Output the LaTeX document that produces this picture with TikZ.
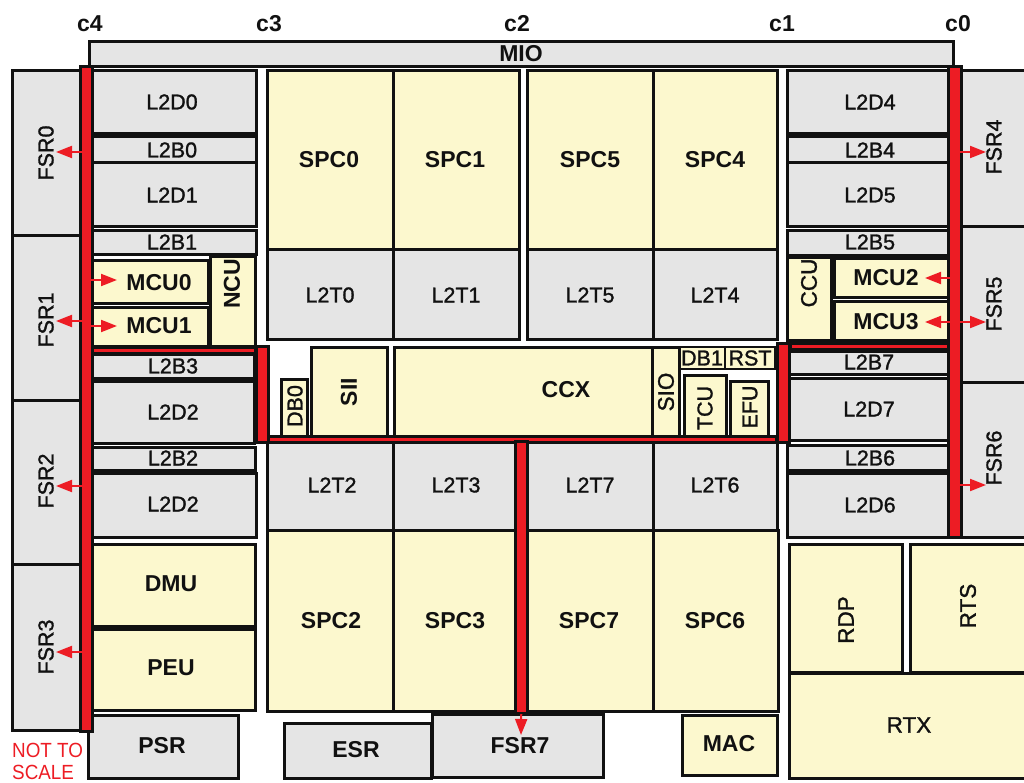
\documentclass[tikz,border=0pt]{standalone}
\usepackage{fontspec}
\setmainfont{Liberation Sans}
\newfontfamily\medfont[FakeBold=1.3]{Liberation Sans}
\usetikzlibrary{arrows.meta}
\definecolor{blockgray}{HTML}{E5E5E5}
\definecolor{blockyellow}{HTML}{FCF8CE}
\definecolor{busred}{HTML}{ED1C24}
\definecolor{edge}{HTML}{111111}
\tikzset{
  blockbase/.style={draw=edge,line width=3pt,inner sep=0pt,outer sep=0pt,rectangle},
  gb/.style={blockbase,fill=blockgray},
  yb/.style={blockbase,fill=blockyellow},
  busbar/.style={draw=edge,fill=busred,line width=3pt,inner sep=0pt,outer sep=0pt,rectangle},
  reg/.style={inner sep=0pt,text=edge,font=\medfont\fontsize{21.5}{24}\selectfont},
  reglg/.style={inner sep=0pt,text=edge,font=\medfont\fontsize{22.5}{24}\selectfont},
  bld/.style={inner sep=0pt,text=edge,font=\bfseries\fontsize{23}{24}\selectfont},
  vert/.style={rotate=90},
  sig/.style={draw=busred,fill=busred,line width=2pt,-{Triangle[length=16pt,width=12pt]}},
}
% name, box style, label style, x0,y0 x1,y1, label position, text
\def\blk#1#2#3(#4,#5)(#6,#7)(#8)#9{%
  \node[#2,minimum width={#6-#4},minimum height={#7-#5}] (#1) at ({(#4+#6)/2},{(#5+#7)/2}) {};
  \node[#3] (#1-t) at (#8) {#9};}
\def\bus#1(#2,#3)(#4,#5){%
  \node[busbar,minimum width={#4-#2},minimum height={#5-#3}] (#1) at ({(#2+#4)/2},{(#3+#5)/2}) {};}
% horizontal arrow leaving a bus: name, bus, tip x, y
\def\tap#1#2#3#4{\coordinate (#1) at (#3,#4); \draw[sig] (#2.center |- #1) -- (#1);}
\begin{document}
\begin{tikzpicture}[x=1pt,y=-1pt]
\useasboundingbox (0,0) rectangle (1024,783);
\clip (0,0) rectangle (1024,783);
% column labels
\foreach \n/\x in {c4/90,c3/269,c2/517,c1/782,c0/958}
  \node[bld] (lab\n) at (\x,24) {\n};
% MIO and left FSR column
\blk{MIO}{gb}{bld}(89,42)(953,67)(521,54){MIO}
\blk{FSR0}{gb}{reg,vert}(12,71)(80,236)(46,153){FSR0}
\blk{FSR1}{gb}{reg,vert}(12,236)(80,400)(46,320){FSR1}
\blk{FSR2}{gb}{reg,vert}(12,400)(80,564)(46,481){FSR2}
\blk{FSR3}{gb}{reg,vert}(12,564)(80,730)(46,647){FSR3}
% left L2 column
\blk{NCU}{yb}{bld,vert}(210,257)(255,346)(232,284){NCU}
\blk{L2D0}{gb}{reg}(92,71)(256,134)(172,102){L2D0}
\blk{L2B0}{gb}{reg}(92,137)(256,162.5)(172,150){L2B0}
\blk{L2D1}{gb}{reg}(92,162.5)(256,227)(172,195){L2D1}
\blk{L2B1}{gb}{reg}(92,231)(256,255)(172,242){L2B1}
\blk{MCU0}{yb}{bld}(92,261)(208,303)(159,283){MCU0}
\blk{MCU1}{yb}{bld}(92,307)(208,346)(159,326){MCU1}
\blk{L2B3}{gb}{reg}(92,354)(254,378)(173,366){L2B3}
\blk{L2D2a}{gb}{reg}(92,381)(254,443)(173,412){L2D2}
\blk{L2B2}{gb}{reg}(92,447)(255,470)(173,458){L2B2}
\blk{L2D2b}{gb}{reg}(92,473.5)(256,537)(173,504){L2D2}
\blk{DMU}{yb}{bld}(92,544)(255,626)(171,584){DMU}
\blk{PEU}{yb}{bld}(92,629)(255,710)(171,668){PEU}
% processor tiles
\blk{SPC0}{yb}{bld}(267,71)(393,250)(329,160){SPC0}
\blk{SPC1}{yb}{bld}(393,71)(519,250)(455,160){SPC1}
\blk{SPC5}{yb}{bld}(527,71)(653,250)(590,160){SPC5}
\blk{SPC4}{yb}{bld}(653,71)(777,250)(715,160){SPC4}
\blk{L2T0}{gb}{reg}(267,250)(393,339)(330,295){L2T0}
\blk{L2T1}{gb}{reg}(393,250)(519,339)(456,295){L2T1}
\blk{L2T5}{gb}{reg}(527,250)(653,339)(590,295){L2T5}
\blk{L2T4}{gb}{reg}(653,250)(777,339)(715,295){L2T4}
\blk{L2T2}{gb}{reg}(267,442)(393,530)(332,485){L2T2}
\blk{L2T3}{gb}{reg}(393,442)(519,530)(456,485){L2T3}
\blk{L2T7}{gb}{reg}(527,442)(653,530)(590,485){L2T7}
\blk{L2T6}{gb}{reg}(653,442)(777,530)(715,485){L2T6}
\blk{SPC2}{yb}{bld}(267,530)(393,711)(331,621){SPC2}
\blk{SPC3}{yb}{bld}(393,530)(519,711)(455,621){SPC3}
\blk{SPC7}{yb}{bld}(527,530)(653,711)(589,621){SPC7}
\blk{SPC6}{yb}{bld}(653,530)(778,711)(715,621){SPC6}
% centre row
\blk{DB0}{yb}{reg,vert}(281,379)(307,436)(295,406){DB0}
\blk{SII}{yb}{bld,vert}(311,347)(387,436)(349,392){SII}
\blk{CCX}{yb}{bld}(394,347)(652,436)(566,390){CCX}
\blk{SIO}{yb}{reglg,vert}(652,347)(679,436)(666,392){SIO}
\blk{DB1}{yb,line width=1.5pt}{reg}(680,347)(725,369)(702,358){DB1}
\blk{RST}{yb,line width=1.5pt}{reg}(725,347)(775,369)(750,358){RST}
\blk{TCU}{yb}{reg,vert}(684,375)(726,436)(705,408){TCU}
\blk{EFU}{yb}{reg,vert}(730,381)(768,436)(750,407){EFU}
% right L2 column
\blk{L2D4}{gb}{reg}(787,71)(948,134)(870,102){L2D4}
\blk{L2B4}{gb}{reg}(787,137)(948,162.5)(870,150){L2B4}
\blk{L2D5}{gb}{reg}(787,162.5)(948,227)(870,195){L2D5}
\blk{L2B5}{gb}{reg}(787,231)(948,256)(870,242){L2B5}
\blk{CCU}{yb}{reglg,vert}(787,258)(831,340)(809,283){CCU}
\blk{MCU2}{yb}{bld}(834,259)(948,297)(886,278){MCU2}
\blk{MCU3}{yb}{bld}(834,301)(948,340)(886,322){MCU3}
\blk{L2B7}{gb}{reg}(789,351)(948,374)(869,362){L2B7}
\blk{L2D7}{gb}{reg}(789,378)(948,440)(869,409){L2D7}
\blk{L2B6}{gb}{reg}(787,445)(948,470)(870,458){L2B6}
\blk{L2D6}{gb}{reg}(787,473.5)(948,537)(870,505){L2D6}
% right FSR column
\blk{FSR4}{gb}{reg,vert}(961,71)(1034,227)(994,147){FSR4}
\blk{FSR5}{gb}{reg,vert}(961,227)(1034,382)(994,304){FSR5}
\blk{FSR6}{gb}{reg,vert}(961,382)(1034,537)(994,458){FSR6}
% bottom row
\blk{PSR}{gb}{bld}(88,715)(238,778)(162,746){PSR}
\blk{ESR}{gb}{bld}(284,723)(431,778)(356,750){ESR}
\blk{FSR7}{gb}{bld}(432,714)(603,777)(520,746){FSR7}
\blk{MAC}{yb}{bld}(682,715)(777,775)(729,744){MAC}
\blk{RDP}{yb}{reglg,vert}(789,544)(902,672)(846,620){RDP}
\blk{RTS}{yb}{reglg,vert}(910,544)(1034,672)(968,606){RTS}
\blk{RTX}{yb}{reglg}(789,673)(1034,778)(909,725){RTX}
% red buses
\bus{busH}(268,436)(776,442)
\bus{busV}(515.5,441)(527,713)
\bus{busLt}(92,347)(255,353)
\bus{busRt}(790,343)(948,349)
\bus{busC3}(256,346)(268,442)
\bus{busC1}(777,343)(789,442)
\bus{busC4}(80,67)(92.5,731)
\bus{busC0}(948,67)(961,537)
% tap arrows
\tap{tF0}{busC4}{56}{152}
\tap{tF1}{busC4}{56}{321}
\tap{tF2}{busC4}{56}{486}
\tap{tF3}{busC4}{56}{652}
\tap{tM0}{busC4}{117}{280}
\tap{tM1}{busC4}{117}{326}
\tap{tF4}{busC0}{986}{152}
\tap{tF5}{busC0}{986}{322}
\tap{tF6}{busC0}{986}{485}
\tap{tM2}{busC0}{925}{278}
\tap{tM3}{busC0}{925}{322}
\coordinate (tF7) at (521,735);
\draw[sig] (busV.center |- FSR7.north) -- (tF7);
% note
\node[inner sep=0pt,anchor=west,text=busred,font=\fontsize{20.5}{25}\selectfont] (noteA) at (12,750) {\scalebox{0.92}[1]{NOT TO}};
\node[inner sep=0pt,anchor=west,text=busred,font=\fontsize{20.5}{25}\selectfont] (noteB) at (12,772) {\scalebox{0.92}[1]{SCALE}};
\end{tikzpicture}
\end{document}
